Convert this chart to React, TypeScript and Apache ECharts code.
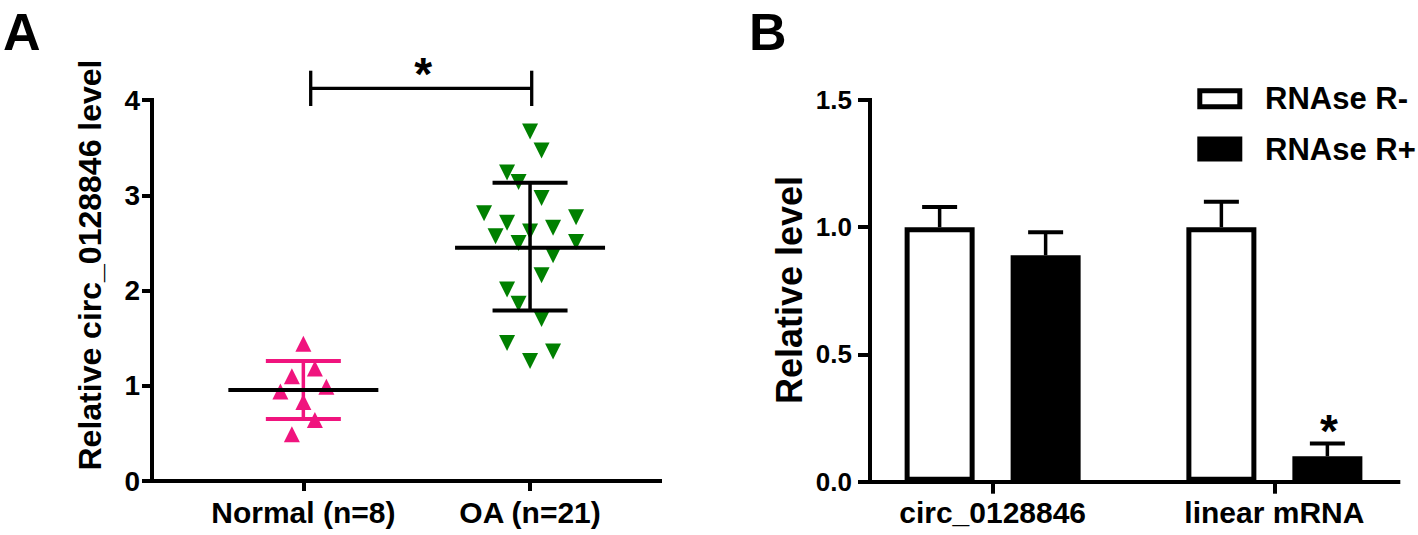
import React, { useEffect, useRef } from "react";
import * as echarts from "echarts";

// ---------- Panel A data ----------
const groupsA = ["Normal (n=8)", "OA (n=21)"];
const normalValues = [1.44, 1.18, 1.1, 0.99, 0.94, 0.83, 0.64, 0.49];
const normalCols = [0, 1, -1, 2, -2, 0, 1, -1];
const oaValues = [3.67, 3.47, 3.24, 3.14, 2.97, 2.81, 2.77, 2.71, 2.66, 2.62, 2.57, 2.5, 2.51, 2.37, 2.16, 2.01, 1.86, 1.7, 1.45, 1.36, 1.26];
const oaCols = [0, 1, -2, -1, 1, -4, 4, -2, 2, 0, -3, -1, 4, 2, 1, -2, -1, 1, -2, 2, 0];
const groupMeans = [0.955, 2.45];
const groupSdLow = [0.65, 1.79];
const groupSdHigh = [1.26, 3.13];
const yTicksA = [0, 1, 2, 3, 4];

// ---------- Panel B data ----------
const categoriesB = ["circ_0128846", "linear mRNA"];
const seriesNamesB = ["RNAse R-", "RNAse R+"];
const rnaseMinus = [1.0, 1.0];
const rnaseMinusErr = [0.08, 0.1];
const rnasePlus = [0.89, 0.1];
const rnasePlusErr = [0.09, 0.05];
const yTicksB = [0, 0.5, 1.0, 1.5];

// ---------- style constants ----------
const FONT = "'Liberation Sans', Arial, Helvetica, sans-serif";
const PINK = "#F0147E";
const GREEN = "#008000";
const JITTER_PX = 11.5;
const BAR_W = 70;
const BAR_GAP_PX = 36;
const BAR_OFFSET = (BAR_W + BAR_GAP_PX) / 2;

export default function App() {
  const ref = useRef<HTMLDivElement>(null);

  useEffect(() => {
    document.body.style.margin = "0";
    if (!ref.current) return;
    const chart = echarts.init(ref.current, undefined, { renderer: "svg" });

    const axisLineStyle = { color: "#000", width: 4, cap: "square" as const };
    const boldLabel = (size: number) => ({
      fontFamily: FONT,
      fontWeight: "bold" as const,
      fontSize: size,
      color: "#000",
    });

    const option: any = {
      animation: false,
      backgroundColor: "#fff",
      grid: [
        { left: 190, right: 774.6, top: 100, bottom: 54 },
        { left: 152, right: 758, top: 100, bottom: 54 },
        { left: 851.75, right: 2.75, top: 100, bottom: 53.3 },
        { left: 870, right: 19.7, top: 100, bottom: 53.3 },
      ],
      xAxis: [
        {
          gridIndex: 0,
          type: "category",
          data: groupsA,
          axisLine: { show: false },
          axisTick: { show: true, alignWithLabel: true, length: 10, lineStyle: { color: "#000", width: 4 } },
          axisLabel: { ...boldLabel(30), margin: 16, interval: 0 },
          splitLine: { show: false },
        },
        {
          gridIndex: 1,
          type: "value",
          min: 0,
          max: 1,
          axisLine: { show: true, lineStyle: axisLineStyle },
          axisTick: { show: false },
          axisLabel: { show: false },
          splitLine: { show: false },
        },
        {
          gridIndex: 2,
          type: "category",
          data: categoriesB,
          axisLine: { show: false },
          axisTick: { show: true, alignWithLabel: true, length: 12, lineStyle: { color: "#000", width: 4 } },
          axisLabel: { ...boldLabel(30), margin: 16, interval: 0 },
          splitLine: { show: false },
        },
        {
          gridIndex: 3,
          type: "value",
          min: 0,
          max: 1,
          axisLine: { show: true, lineStyle: axisLineStyle },
          axisTick: { show: false },
          axisLabel: { show: false },
          splitLine: { show: false },
        },
      ],
      yAxis: [
        { gridIndex: 0, type: "value", min: yTicksA[0], max: yTicksA[yTicksA.length - 1], show: false },
        {
          gridIndex: 1,
          type: "value",
          min: yTicksA[0],
          max: yTicksA[yTicksA.length - 1],
          interval: 1,
          axisLine: { show: true, lineStyle: axisLineStyle },
          axisTick: { show: true, length: 10, lineStyle: { color: "#000", width: 4 } },
          axisLabel: { ...boldLabel(28), margin: 12 },
          splitLine: { show: false },
        },
        { gridIndex: 2, type: "value", min: yTicksB[0], max: yTicksB[yTicksB.length - 1], show: false },
        {
          gridIndex: 3,
          type: "value",
          min: yTicksB[0],
          max: yTicksB[yTicksB.length - 1],
          interval: 0.5,
          axisLine: { show: true, lineStyle: axisLineStyle },
          axisTick: { show: true, length: 12, lineStyle: { color: "#000", width: 4 } },
          axisLabel: { ...boldLabel(26), margin: 18, formatter: (v: number) => v.toFixed(1) },
          splitLine: { show: false },
        },
      ],
      series: [
        {
          type: "scatter",
          name: groupsA[0],
          xAxisIndex: 0,
          yAxisIndex: 0,
          symbol: "triangle",
          symbolSize: 16,
          itemStyle: { color: PINK, opacity: 1 },
          z: 2,
          data: normalValues.map((v, i) => ({ value: [0, v], symbolOffset: [normalCols[i] * JITTER_PX, 0] })),
        },
        {
          type: "scatter",
          name: groupsA[1],
          xAxisIndex: 0,
          yAxisIndex: 0,
          symbol: "triangle",
          symbolRotate: 180,
          symbolSize: 16,
          itemStyle: { color: GREEN, opacity: 1 },
          z: 2,
          data: oaValues.map((v, i) => ({ value: [1, v], symbolOffset: [oaCols[i] * JITTER_PX, 0] })),
        },
        {
          type: "custom",
          name: "mean-sd",
          xAxisIndex: 0,
          yAxisIndex: 0,
          z: 3,
          encode: { x: 0, y: [1, 2, 3] },
          data: groupsA.map((_, i) => [i, groupMeans[i], groupSdLow[i], groupSdHigh[i]]),
          renderItem: (params: any, api: any) => {
            const idx = api.value(0);
            const c = api.coord([idx, api.value(1)]);
            const lo = api.coord([idx, api.value(2)]);
            const hi = api.coord([idx, api.value(3)]);
            const sdColor = idx === 0 ? PINK : "#000";
            return {
              type: "group",
              children: [
                { type: "line", shape: { x1: c[0], y1: lo[1], x2: c[0], y2: hi[1] }, style: { stroke: sdColor, lineWidth: 3.5 } },
                { type: "line", shape: { x1: c[0] - 37.5, y1: lo[1], x2: c[0] + 37.5, y2: lo[1] }, style: { stroke: sdColor, lineWidth: 4 } },
                { type: "line", shape: { x1: c[0] - 37.5, y1: hi[1], x2: c[0] + 37.5, y2: hi[1] }, style: { stroke: sdColor, lineWidth: 4 } },
                { type: "line", shape: { x1: c[0] - 75, y1: c[1], x2: c[0] + 75, y2: c[1] }, style: { stroke: "#000", lineWidth: 4 } },
              ],
            };
          },
        },
        {
          type: "bar",
          name: seriesNamesB[0],
          xAxisIndex: 2,
          yAxisIndex: 2,
          barWidth: BAR_W,
          barGap: `${(BAR_GAP_PX / BAR_W) * 100}%`,
          itemStyle: { color: "#fff", borderColor: "#000", borderWidth: 5 },
          data: rnaseMinus,
          z: 2,
        },
        {
          type: "bar",
          name: seriesNamesB[1],
          xAxisIndex: 2,
          yAxisIndex: 2,
          barWidth: BAR_W,
          barGap: `${(BAR_GAP_PX / BAR_W) * 100}%`,
          itemStyle: { color: "#000", borderColor: "#000", borderWidth: 5 },
          data: rnasePlus,
          z: 2,
        },
        {
          type: "custom",
          name: "error-bars",
          xAxisIndex: 2,
          yAxisIndex: 2,
          z: 3,
          encode: { x: 0, y: [2, 3] },
          data: [
            ...categoriesB.map((_, i) => [i, 0, rnaseMinus[i], rnaseMinus[i] + rnaseMinusErr[i]]),
            ...categoriesB.map((_, i) => [i, 1, rnasePlus[i], rnasePlus[i] + rnasePlusErr[i]]),
          ],
          renderItem: (params: any, api: any) => {
            const cat = api.value(0);
            const s = api.value(1);
            const base = api.coord([cat, api.value(2)]);
            const top = api.coord([cat, api.value(3)]);
            const x = base[0] + (s === 0 ? -1 : 1) * BAR_OFFSET;
            return {
              type: "group",
              children: [
                { type: "line", shape: { x1: x, y1: base[1], x2: x, y2: top[1] }, style: { stroke: "#000", lineWidth: 3.5 } },
                { type: "line", shape: { x1: x - 17.5, y1: top[1], x2: x + 17.5, y2: top[1] }, style: { stroke: "#000", lineWidth: 4 } },
              ],
            };
          },
        },
      ],
      graphic: [
        { type: "text", x: 3, y: 58, style: { text: "A", font: `bold 52px ${FONT}`, fill: "#000", verticalAlign: "bottom" } },
        { type: "text", x: 749, y: 58, style: { text: "B", font: `bold 52px ${FONT}`, fill: "#000", verticalAlign: "bottom" } },
        {
          type: "text",
          x: 90,
          y: 265,
          rotation: Math.PI / 2,
          style: { text: "Relative circ_0128846 level", font: `bold 32px ${FONT}`, fill: "#000", align: "center", verticalAlign: "middle" },
        },
        {
          type: "text",
          x: 789,
          y: 290,
          rotation: Math.PI / 2,
          style: { text: "Relative level", font: `bold 36px ${FONT}`, fill: "#000", align: "center", verticalAlign: "middle" },
        },
        { type: "line", shape: { x1: 310.7, y1: 70.7, x2: 310.7, y2: 106 }, style: { stroke: "#000", lineWidth: 3.3 } },
        { type: "line", shape: { x1: 531.7, y1: 70.7, x2: 531.7, y2: 106 }, style: { stroke: "#000", lineWidth: 3.3 } },
        { type: "line", shape: { x1: 310.7, y1: 88.3, x2: 531.7, y2: 88.3 }, style: { stroke: "#000", lineWidth: 3.3 } },
        { type: "text", x: 423.3, y: 74, style: { text: "*", font: `bold 46px ${FONT}`, fill: "#000", align: "center", verticalAlign: "middle" } },
        { type: "text", x: 1329, y: 431, style: { text: "*", font: `bold 46px ${FONT}`, fill: "#000", align: "center", verticalAlign: "middle" } },
        // legend
        { type: "rect", shape: { x: 1199.8, y: 90.8, width: 40, height: 16 }, style: { fill: "#fff", stroke: "#000", lineWidth: 5 } },
        { type: "rect", shape: { x: 1197.3, y: 136.5, width: 45, height: 25 }, style: { fill: "#000" } },
        { type: "text", x: 1265, y: 98, style: { text: seriesNamesB[0], font: `bold 31px ${FONT}`, fill: "#000", verticalAlign: "middle" } },
        { type: "text", x: 1265, y: 149, style: { text: seriesNamesB[1], font: `bold 31px ${FONT}`, fill: "#000", verticalAlign: "middle" } },
      ],
    };

    chart.setOption(option);
    return () => chart.dispose();
  }, []);

  return <div ref={ref} style={{ position: "absolute", left: 0, top: 0, width: 1418, height: 535 }} />;
}
